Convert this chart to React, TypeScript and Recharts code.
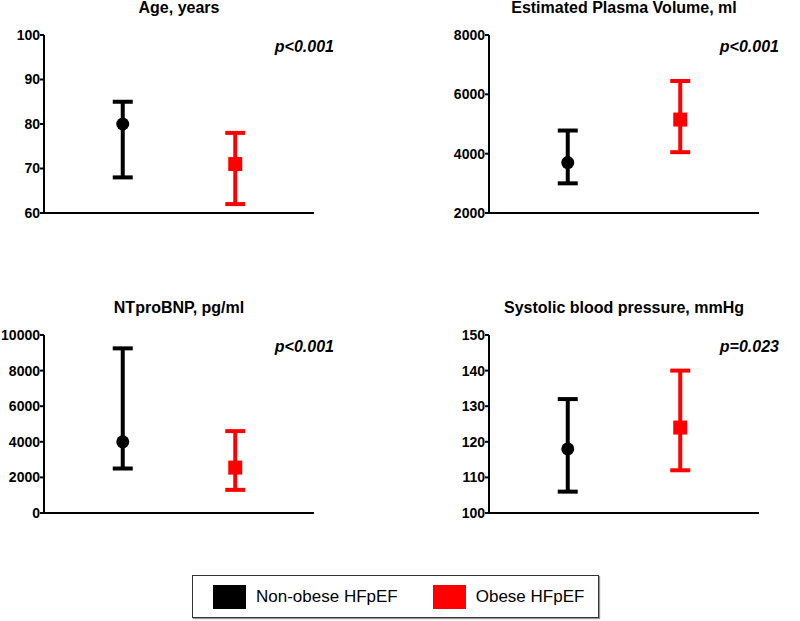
import { ScatterChart, Scatter, ErrorBar, XAxis, YAxis } from 'recharts';

// two groups, same order in every panel
const GROUPS = ['Non-obese HFpEF', 'Obese HFpEF'];
const GROUP_X = [1, 2];
const COLORS = ['#000000', '#ff0000'];

// Age, years
const AGE_MID = [80, 71];
const AGE_LOW = [68, 62];
const AGE_HIGH = [85, 78];
const AGE_TICKS = [60, 70, 80, 90, 100];

// Estimated plasma volume, ml
const EPV_MID = [3700, 5150];
const EPV_LOW = [3000, 4050];
const EPV_HIGH = [4780, 6450];
const EPV_TICKS = [2000, 4000, 6000, 8000];

// NTproBNP, pg/ml
const BNP_MID = [4000, 2550];
const BNP_LOW = [2500, 1300];
const BNP_HIGH = [9250, 4600];
const BNP_TICKS = [0, 2000, 4000, 6000, 8000, 10000];

// Systolic blood pressure, mmHg
const SBP_MID = [118, 124];
const SBP_LOW = [106, 112];
const SBP_HIGH = [132, 140];
const SBP_TICKS = [100, 110, 120, 130, 140, 150];

const FONT = '"Liberation Sans", Arial, Helvetica, sans-serif';

const CircleShape = (props: any) => (
  <circle cx={props.cx} cy={props.cy} r={6.5} fill={COLORS[0]} />
);
const SquareShape = (props: any) => (
  <rect x={props.cx - 7} y={props.cy - 7} width={14} height={14} fill={COLORS[1]} />
);

interface PanelProps {
  title: string;
  pText: string;
  mid: number[];
  low: number[];
  high: number[];
  ticks: number[];
  left: number;
  top: number;
  axisWidth: number;
}

function Panel({ title, pText, mid, low, high, ticks, left, top, axisWidth }: PanelProps) {
  const series = GROUPS.map((g, i) => [
    { x: GROUP_X[i], y: mid[i], err: [mid[i] - low[i], high[i] - mid[i]] },
  ]);
  const plotW = 270;
  const chartW = axisWidth + plotW + 17;
  return (
    <div style={{ position: 'absolute', left, top, width: chartW, height: 230 }}>
      <div
        style={{
          position: 'absolute',
          left: axisWidth,
          width: plotW,
          top: -1,
          textAlign: 'center',
          fontFamily: FONT,
          fontWeight: 'bold',
          fontSize: 16,
          whiteSpace: 'nowrap',
        }}
      >
        {title}
      </div>
      <div
        style={{
          position: 'absolute',
          right: chartW - axisWidth - plotW - 20,
          top: 38,
          fontFamily: FONT,
          fontWeight: 'bold',
          fontStyle: 'italic',
          fontSize: 16,
          whiteSpace: 'nowrap',
        }}
      >
        {pText}
      </div>
      <ScatterChart
        width={chartW}
        height={220}
        margin={{ top: 35, right: 17, bottom: 5, left: 0 }}
      >
        <XAxis
          type="number"
          dataKey="x"
          domain={[0.3, 2.7]}
          tick={false}
          tickLine={false}
          axisLine={{ stroke: '#000', strokeWidth: 2 }}
          height={2}
        />
        <YAxis
          type="number"
          dataKey="y"
          domain={[ticks[0], ticks[ticks.length - 1]]}
          ticks={ticks}
          interval={0}
          width={axisWidth}
          tickSize={4}
          tickMargin={0}
          axisLine={{ stroke: '#000', strokeWidth: 2 }}
          tickLine={{ stroke: '#000', strokeWidth: 2 }}
          tick={{ fill: '#000', fontSize: 14, fontWeight: 'bold', fontFamily: FONT }}
        />
        {series.map((d, i) => (
          <Scatter
            key={GROUPS[i]}
            name={GROUPS[i]}
            data={d}
            dataKey="y"
            fill={COLORS[i]}
            shape={i === 0 ? CircleShape : SquareShape}
            isAnimationActive={false}
          >
            <ErrorBar
              dataKey="err"
              direction="y"
              width={10}
              strokeWidth={4}
              stroke={COLORS[i]}
              isAnimationActive={false}
            />
          </Scatter>
        ))}
      </ScatterChart>
    </div>
  );
}

export default function App() {
  return (
    <div
      style={{
        position: 'absolute',
        left: 0,
        top: 0,
        width: 800,
        height: 621,
        background: '#fff',
        fontFamily: FONT,
      }}
    >
      <Panel title="Age, years" pText="p<0.001" mid={AGE_MID} low={AGE_LOW} high={AGE_HIGH}
        ticks={AGE_TICKS} left={0} top={0} axisWidth={44} />
      <Panel title="Estimated Plasma Volume, ml" pText="p<0.001" mid={EPV_MID} low={EPV_LOW} high={EPV_HIGH}
        ticks={EPV_TICKS} left={439} top={0} axisWidth={50} />
      <Panel title="NTproBNP, pg/ml" pText="p<0.001" mid={BNP_MID} low={BNP_LOW} high={BNP_HIGH}
        ticks={BNP_TICKS} left={0} top={300} axisWidth={44} />
      <Panel title="Systolic blood pressure, mmHg" pText="p=0.023" mid={SBP_MID} low={SBP_LOW} high={SBP_HIGH}
        ticks={SBP_TICKS} left={439} top={300} axisWidth={50} />

      {/* legend box */}
      <div
        style={{
          position: 'absolute',
          left: 192,
          top: 575,
          width: 405,
          height: 41,
          border: '1px solid #333',
          boxShadow: '1px 1px 1px #999',
          display: 'flex',
          alignItems: 'center',
          fontSize: 17,
        }}
      >
        {GROUPS.map((g, i) => (
          <div key={g} style={{ display: 'flex', alignItems: 'center', marginLeft: i === 0 ? 20 : 35 }}>
            <span style={{ width: 33, height: 24, background: COLORS[i], display: 'inline-block', marginRight: 10 }} />
            <span>{g}</span>
          </div>
        ))}
      </div>
    </div>
  );
}
